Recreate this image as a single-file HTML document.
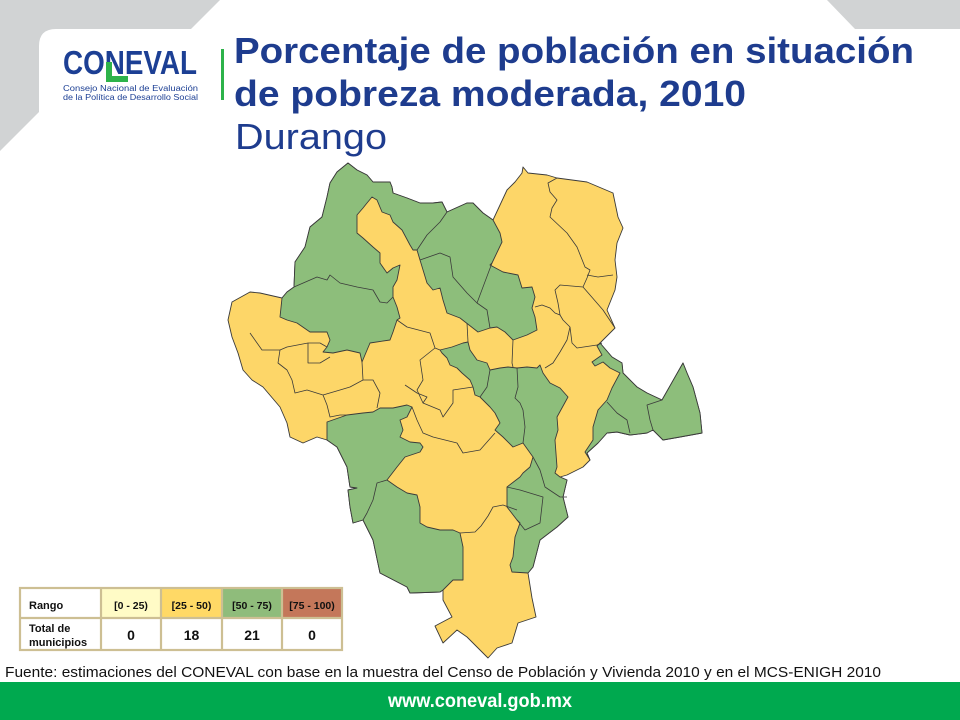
<!DOCTYPE html>
<html>
<head>
<meta charset="utf-8">
<style>
html,body{margin:0;padding:0;background:#fff;}
svg{display:block}
</style>
</head>
<body>
<svg width="960" height="720" viewBox="0 0 960 720" xmlns="http://www.w3.org/2000/svg">
<rect width="960" height="720" fill="#ffffff"/>
<!-- gray corner shapes -->
<path d="M0,0 H220 L191,29 H56 Q39,29 39,46 V112 L0,151 Z" fill="#D1D3D4"/>
<path d="M827,0 H960 V29 H855 Z" fill="#D1D3D4"/>

<!-- logo -->
<text x="63" y="74" font-family="Liberation Sans, sans-serif" font-weight="bold" font-size="33" fill="#1C3F94" textLength="134" lengthAdjust="spacingAndGlyphs">CONEVAL</text>
<rect x="106" y="62" width="6" height="20" fill="#2DB34A"/>
<rect x="106" y="76" width="22" height="6" fill="#2DB34A"/>
<text x="63" y="91" font-family="Liberation Sans, sans-serif" font-size="8.6" fill="#1C3F94" textLength="135" lengthAdjust="spacingAndGlyphs">Consejo Nacional de Evaluación</text>
<text x="63" y="100" font-family="Liberation Sans, sans-serif" font-size="8.6" fill="#1C3F94" textLength="135" lengthAdjust="spacingAndGlyphs">de la Política de Desarrollo Social</text>
<rect x="221" y="49" width="3" height="51" fill="#2DB34A"/>

<!-- title -->
<text x="234" y="63" font-family="Liberation Sans, sans-serif" font-weight="bold" font-size="36" fill="#1E3C8E" textLength="680" lengthAdjust="spacingAndGlyphs">Porcentaje de población en situación</text>
<text x="234" y="106" font-family="Liberation Sans, sans-serif" font-weight="bold" font-size="36" fill="#1E3C8E" textLength="512" lengthAdjust="spacingAndGlyphs">de pobreza moderada, 2010</text>
<text x="235" y="149" font-family="Liberation Sans, sans-serif" font-size="36" fill="#1E3C8E" textLength="152" lengthAdjust="spacingAndGlyphs">Durango</text>

<!-- map -->
<g stroke="#3a3a3a" stroke-width="0.9" stroke-linejoin="round">
<polygon fill="#FDD668" points="348,163 357,170 367,175 373,182 390,182 392,187 393,193 407,198 420,203 433,203 442,202 447,212 467,203 473,203 483,213 493,220 500,205 507,190 515,182 522,173 523,167 528,173 547,175 557,178 587,182 613,193 618,217 623,228 617,243 615,260 617,277 615,290 607,310 615,328 600,343 612,357 622,363 623,373 637,387 647,393 662,400 683,363 687,373 693,387 700,413 702,433 680,437 663,440 653,430 647,433 630,435 617,432 607,433 598,443 587,453 590,460 583,467 567,475 560,477 567,480 563,497 568,517 557,527 540,540 533,567 528,573 532,598 536,617 518,623 512,643 497,648 488,658 478,648 467,637 457,630 443,643 435,626 452,617 443,600 443,590 440,592 410,593 407,587 380,573 373,540 363,520 353,523 350,507 348,490 357,488 350,487 347,467 337,447 327,440 317,437 303,443 290,437 287,423 280,407 263,387 252,380 243,370 238,353 232,337 228,320 232,302 250,292 260,293 282,298 287,292 294,287 295,262 305,247 310,227 322,217 327,197 330,183 337,172"/>

<polygon fill="#8DBE7B" points="282,298 287,292 294,287 295,262 305,247 310,227 322,217 327,197 330,183 337,172 348,163 357,170 367,175 373,182 390,182 392,187 393,193 407,198 420,203 433,203 442,202 447,212 467,203 473,203 483,213 493,220 500,233 502,242 492,263 490,265 503,272 518,275 522,288 532,287 535,297 532,308 535,317 537,330 527,335 513,340 505,332 497,327 490,328 478,332 460,318 447,313 443,300 440,288 433,290 427,283 420,260 417,250 413,250 410,245 402,230 393,222 390,215 382,212 377,200 372,197 367,203 363,208 357,215 357,233 363,238 373,247 380,253 380,263 387,273 393,268 400,265 397,280 393,287 393,297 397,307 400,318 397,320 393,332 390,340 370,343 362,362 360,353 347,350 333,353 323,352 327,347 330,340 327,332 310,332 297,323 287,320 280,317"/>

<polygon fill="#8DBE7B" points="600,343 612,357 622,363 623,373 637,387 647,393 662,400 683,363 687,373 693,387 700,413 702,433 680,437 663,440 653,430 647,433 630,435 617,432 607,433 598,443 587,453 590,460 585,452 593,440 593,427 598,410 607,400 612,388 620,373 610,368 603,362 595,366 592,362 602,355 597,346"/>

<polygon fill="#8DBE7B" points="440,350 452,347 463,343 468,342 470,350 477,360 487,363 490,370 500,368 508,367 517,368 527,367 537,368 540,365 543,373 550,383 560,388 568,397 557,417 558,430 555,440 557,467 555,473 560,477 567,480 563,497 568,517 557,527 540,540 533,567 528,573 512,572 510,565 513,557 515,537 520,523 517,520 507,507 507,487 520,477 523,473 530,467 533,457 523,443 513,447 503,437 495,430 500,423 495,413 490,407 480,397 475,395 473,387 470,380 462,373 457,368 450,365 447,358 442,353"/>

<polygon fill="#8DBE7B" points="327,422 347,415 363,413 373,412 380,408 393,408 407,405 412,407 407,417 400,420 403,430 400,437 410,442 420,443 423,447 420,452 405,457 397,467 387,480 397,487 407,493 417,495 420,507 420,523 427,527 440,530 453,530 460,533 463,547 463,580 453,580 443,590 440,592 410,593 407,587 380,573 373,540 363,520 353,523 350,507 348,490 357,488 350,487 347,467 337,447 327,440"/>

<g fill="none" stroke-width="0.8">
<!-- NE yellow lines -->
<polyline points="557,178 548,183 550,192 557,200 552,208 550,217 567,233 577,247 585,267 590,270 587,278 583,287"/>
<polyline points="587,275 598,277 613,275"/>
<polyline points="583,287 590,295 603,310 615,328"/>
<polyline points="583,287 560,285 555,290 558,303 560,315 563,320 570,327 572,343 577,348 597,345 602,343"/>
<polyline points="535,307 542,305 550,308 555,313 560,315"/>
<polyline points="513,340 512,363 513,367"/>
<polyline points="570,327 567,340 560,352 553,363 545,368"/>
<!-- center yellow lines -->
<polyline points="397,320 407,327 430,333 435,348 440,350"/>
<polyline points="467,323 468,342"/>
<polyline points="435,348 420,360 423,380 417,390 423,403 440,410 443,417 453,403 453,390 473,387"/>
<polyline points="412,407 417,420 423,433 433,437 457,443 463,453 480,450 495,433"/>
<polyline points="460,533 475,532 481,526 488,516 493,507 503,505 517,510"/>
<!-- west yellow lines -->
<polyline points="250,333 262,350 280,350 287,347 308,343 320,343 327,347"/>
<polyline points="280,350 278,363 287,370 292,380 295,393 307,390 323,395 327,405 330,417 340,415 347,415"/>
<polyline points="308,343 308,363 320,363 330,357"/>
<polyline points="323,395 340,390 350,387 363,380 362,362"/>
<polyline points="363,380 373,380 380,393 377,408"/>
<polyline points="405,385 417,393 427,397 423,403"/>
<!-- green internal lines -->
<polyline points="294,287 317,277 327,280 330,275 340,283 357,287 373,290 380,302 387,303 393,297"/>
<polyline points="447,212 440,222 427,235 417,250"/>
<polyline points="420,260 440,253 450,257 453,277 467,293 477,303 487,310 490,328"/>
<polyline points="492,263 483,287 477,303"/>
<polyline points="490,370 487,387 480,397"/>
<polyline points="517,368 518,387 515,398 520,403 523,410 525,427 523,443"/>
<polyline points="533,457 540,470 545,487 560,497 567,497"/>
<polyline points="507,487 520,490 543,497 540,523 525,530 517,520"/>
<polyline points="387,480 377,483 373,500 367,513 363,520"/>
<polyline points="662,400 647,405 650,420 653,430"/>
<polyline points="607,402 617,413 627,420 630,433"/>
</g>
</g>

<!-- legend table -->
<rect x="20" y="588" width="322" height="62" fill="#ffffff"/>
<rect x="101" y="588" width="60" height="30" fill="#FFFBC6"/>
<rect x="161" y="588" width="61" height="30" fill="#FFD966"/>
<rect x="222" y="588" width="60" height="30" fill="#8FBC7B"/>
<rect x="282" y="588" width="60" height="30" fill="#C4775A"/>
<g stroke="#CDBF93" stroke-width="2.2" fill="none">
<rect x="20" y="588" width="322" height="62"/>
<line x1="20" y1="618" x2="342" y2="618"/>
<line x1="101" y1="588" x2="101" y2="650"/>
<line x1="161" y1="588" x2="161" y2="650"/>
<line x1="222" y1="588" x2="222" y2="650"/>
<line x1="282" y1="588" x2="282" y2="650"/>
</g>
<g font-family="Liberation Sans, sans-serif" font-weight="bold" fill="#111">
<text x="29" y="609" font-size="11">Rango</text>
<text x="131" y="609" font-size="10.5" text-anchor="middle">[0 - 25)</text>
<text x="191.5" y="609" font-size="10.5" text-anchor="middle">[25 - 50)</text>
<text x="252" y="609" font-size="10.5" text-anchor="middle">[50 - 75)</text>
<text x="312" y="609" font-size="10.5" text-anchor="middle">[75 - 100)</text>
<text x="29" y="632" font-size="11">Total de</text>
<text x="29" y="646" font-size="11">municipios</text>
<text x="131" y="640" font-size="14" text-anchor="middle">0</text>
<text x="191.5" y="640" font-size="14" text-anchor="middle">18</text>
<text x="252" y="640" font-size="14" text-anchor="middle">21</text>
<text x="312" y="640" font-size="14" text-anchor="middle">0</text>
</g>

<!-- source -->
<text x="5" y="677" font-family="Liberation Sans, sans-serif" font-size="15" fill="#111" textLength="876" lengthAdjust="spacingAndGlyphs">Fuente: estimaciones del CONEVAL con base en la muestra del Censo de Población y Vivienda 2010 y en el MCS-ENIGH 2010</text>

<!-- footer band -->
<rect x="0" y="682" width="960" height="38" fill="#00A94F"/>
<text x="388" y="707" font-family="Liberation Sans, sans-serif" font-weight="bold" font-size="19" fill="#ffffff" textLength="184" lengthAdjust="spacingAndGlyphs">www.coneval.gob.mx</text>
</svg>
</body>
</html>
